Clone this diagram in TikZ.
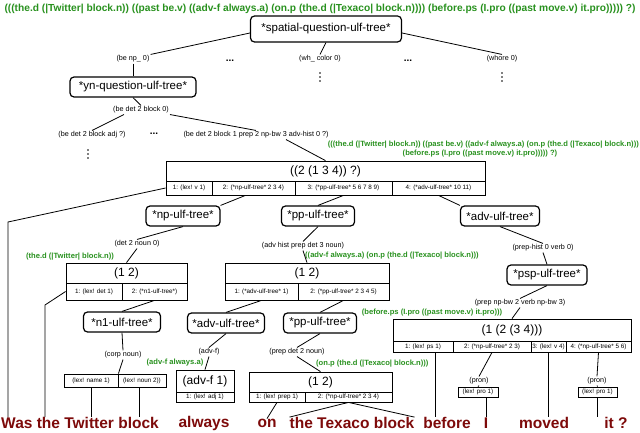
\documentclass[tikz,border=0pt]{standalone}
\usepackage{fontspec}
\setmainfont{Liberation Sans}
\begin{document}
\definecolor{gr}{RGB}{40,145,30}
\definecolor{dr}{RGB}{125,10,10}
\begin{tikzpicture}[x=1pt,y=-1pt,
 rbox/.style={draw,very thick,rounded corners=4pt,font=\fontsize{11.5}{12}\selectfont,inner sep=0pt,minimum height=20pt},
 cell/.style={draw,thick,inner sep=0pt,font=\fontsize{6.3}{7}\selectfont},
 top/.style={draw,thick,inner sep=0pt,font=\fontsize{12}{13}\selectfont},
 lab/.style={font=\fontsize{7.2}{7}\selectfont,inner sep=1pt},
 gl/.style={text=gr,font=\bfseries\fontsize{7.6}{8}\selectfont,inner sep=0pt},
 wd/.style={text=dr,font=\bfseries\fontsize{15.5}{16}\selectfont,inner sep=0pt},
 dots/.style={font=\bfseries\fontsize{10}{10}\selectfont,inner sep=0pt},
 vdot/.style={circle,fill,inner sep=0pt,minimum size=1.8pt},
 ln/.style={thick}]
\path[use as bounding box] (0,0) rectangle (640,433);
\node[text=gr,font=\bfseries\fontsize{10.2}{11}\selectfont] (g0) at (320,9) {(((the.d (|Twitter| block.n)) ((past be.v) ((adv-f always.a) (on.p (the.d (|Texaco| block.n)))) (before.ps (I.pro ((past move.v) it.pro))))) ?)};
\node[rbox,minimum width=151pt,minimum height=26pt] (sp) at (326,29) {*spatial-question-ulf-tree*};
\node[lab] (bnp) at (133,59) {(be np\_ 0)};
\node[dots] (d1) at (230,61) {...};
\node[lab] (wh) at (320,59) {(wh\_ color 0)};
\node[dots] (d2) at (408,61) {...};
\node[lab] (who) at (502,59) {(whore 0)};
\foreach \x/\y in {320/73,502/73,88/150}{
  \node[vdot] at (\x,\y) {}; \node[vdot] at (\x,\y+4) {}; \node[vdot] at (\x,\y+8) {};}
\draw[ln] (sp.west) ++(0,4) coordinate (a1) (a1) -- (bnp.north east);
\draw[ln] (sp.south) -- (wh.north);
\draw[ln] (sp.east) ++(0,4) coordinate (a2) (a2) -- (who.north);
\node[rbox,minimum width=126pt] (yn) at (133,87) {*yn-question-ulf-tree*};
\draw[ln] (bnp.south) -- (yn.north);
\node[lab] (bd0) at (141,110) {(be det 2 block 0)};
\draw[ln] (yn.south) -- (bd0.north);
\node[lab] (bda) at (92,135) {(be det 2 block adj ?)};
\node[dots] (d3) at (154,134) {...};
\node[lab] (bdl) at (256,135) {(be det 2 block 1 prep 2 np-bw 3 adv-hist 0 ?)};
\draw[ln] (bd0.south west) ++(12,0) coordinate (a3) (a3) -- (bda.north);
\draw[ln] (bd0.south east) -- (bdl.north);
\node[gl,anchor=east] (g1) at (639,145) {(((the.d (|Twitter| block.n)) ((past be.v) ((adv-f always.a) (on.p (the.d (|Texaco| block.n)))};
\node[gl] (g2) at (480,154) {(before.ps (I.pro ((past move.v) it.pro))))) ?)};
\node[top,minimum width=319pt,minimum height=20pt] (t1) at (325.5,171) {((2 (1 3 4)) ?)};
\node[cell,minimum width=46pt,minimum height=14pt] (t1a) at (189,188) {1: (lex! v 1)};
\node[cell,minimum width=83pt,minimum height=14pt] (t1b) at (253.5,188) {2: (*np-ulf-tree* 2 3 4)};
\node[cell,minimum width=97pt,minimum height=14pt] (t1c) at (343.5,188) {3: (*pp-ulf-tree* 5 6 7 8 9)};
\node[cell,minimum width=93pt,minimum height=14pt] (t1d) at (438.5,188) {4: (*adv-ulf-tree* 10 11)};
\draw[ln] (bdl.south) ++(30,0) coordinate (a4) (a4) -- (t1.north);
\node[rbox,minimum width=74pt] (np) at (183,216) {*np-ulf-tree*};
\node[rbox,minimum width=73pt] (pp) at (318,216) {*pp-ulf-tree*};
\node[rbox,minimum width=79pt] (adv) at (500,216) {*adv-ulf-tree*};
\draw[ln] (t1b.south) ++(-8,0) coordinate (a5) (a5) -- (np.north east);
\draw[ln] (t1c.south) -- (pp.north);
\draw[ln] (t1d.south) -- (adv.north west);
\node[lab] (dn) at (137,244) {(det 2 noun 0)};
\node[lab] (ah) at (303,246) {(adv hist prep det 3 noun)};
\node[lab] (ph) at (543,248) {(prep-hist 0 verb 0)};
\draw[ln] (np.south) -- (dn.north);
\draw[ln] (pp.south) -- (ah.north);
\draw[ln] (adv.south) -- (ph.north);
\node[gl] (g3) at (70,257) {(the.d (|Twitter| block.n))};
\node[gl,anchor=west] (g4) at (305,256) {((adv-f always.a) (on.p (the.d (|Texaco| block.n)))};
\node[top,minimum width=121pt,minimum height=20pt] (t2) at (126.5,273) {(1 2)};
\node[cell,minimum width=56pt,minimum height=17pt] (t2a) at (94,291.5) {1: (lex! det 1)};
\node[cell,minimum width=65pt,minimum height=17pt] (t2b) at (154.5,291.5) {2: (*n1-ulf-tree*)};
\draw[ln] (dn.south) -- (t2.north);
\node[top,minimum width=164pt,minimum height=20pt] (t3) at (307,273) {(1 2)};
\node[cell,minimum width=73pt,minimum height=17pt] (t3a) at (261.5,291.5) {1: (*adv-ulf-tree* 1)};
\node[cell,minimum width=91pt,minimum height=17pt] (t3b) at (343.5,291.5) {2: (*pp-ulf-tree* 2 3 4 5)};
\draw[ln] (ah.south) -- (t3.north);
\node[rbox,minimum width=80pt] (psp) at (547,275) {*psp-ulf-tree*};
\draw[ln] (ph.south) -- (psp.north);
\node[rbox,minimum width=77pt] (n1) at (122,322) {*n1-ulf-tree*};
\node[rbox,minimum width=77pt] (adv2) at (226,323) {*adv-ulf-tree*};
\node[rbox,minimum width=73pt] (pp2) at (320,323) {*pp-ulf-tree*};
\draw[ln] (t2b.south) -- (n1.north);
\draw[ln] (t3a.south) -- (adv2.north);
\draw[ln] (t3b.south) -- (pp2.north);
\node[lab] (pnv) at (520,303) {(prep np-bw 2 verb np-bw 3)};
\draw[ln] (psp.south) -- (pnv.north);
\node[gl] (g5) at (432,313) {(before.ps (I.pro ((past move.v) it.pro)))};
\node[top,minimum width=238pt,minimum height=22pt] (t7) at (512,330) {(1 (2 (3 4)))};
\node[cell,minimum width=60pt,minimum height=11pt] (t7a) at (423,346.5) {1: (lex! ps 1)};
\node[cell,minimum width=78pt,minimum height=11pt] (t7b) at (492,346.5) {2: (*np-ulf-tree* 2 3)};
\node[cell,minimum width=35pt,minimum height=11pt] (t7c) at (548.5,346.5) {3: (lex! v 4)};
\node[cell,minimum width=65pt,minimum height=11pt] (t7d) at (598.5,346.5) {4: (*np-ulf-tree* 5 6)};
\draw[ln] (pnv.south) -- (t7.north);
\node[lab] (cn) at (123,355) {(corp noun)};
\node[lab] (af) at (209,352) {(adv-f)};
\node[lab] (pd) at (297,352) {(prep det 2 noun)};
\draw[ln] (n1.south) -- (cn.north);
\draw[ln] (adv2.south) -- (af.north);
\draw[ln] (pp2.south) -- (pd.north);
\node[gl] (g6) at (175,363) {(adv-f always.a)};
\node[gl,anchor=west] (g7) at (316,364) {(on.p (the.d (|Texaco| block.n)))};
\node[cell,minimum width=54pt,minimum height=13pt] (t4a) at (91,380.5) {(lex! name 1)};
\node[cell,minimum width=48pt,minimum height=13pt] (t4b) at (142,380.5) {(lex! noun 2))};
\draw[ln] (cn.south) -- (t4a.north east);
\node[top,minimum width=58pt,minimum height=22pt] (t5) at (205,381) {(adv-f 1)};
\node[cell,minimum width=58pt,minimum height=10pt] (t5a) at (205,397) {1: (lex! adj 1)};
\draw[ln] (af.south) -- (t5.north);
\node[top,minimum width=143pt,minimum height=20pt] (t6) at (320.5,382) {(1 2)};
\node[cell,minimum width=56pt,minimum height=10pt] (t6a) at (277,397) {1: (lex! prep 1)};
\node[cell,minimum width=87pt,minimum height=10pt] (t6b) at (348.5,397) {2: (*np-ulf-tree* 2 3 4)};
\draw[ln] (pd.south) -- (t6.north);
\node[lab] (pr1) at (479,381) {(pron)};
\node[lab] (pr2) at (597,381) {(pron)};
\node[cell,minimum width=40pt,minimum height=10pt] (lp1) at (478,392) {(lex! pro 1)};
\node[cell,minimum width=39pt,minimum height=10pt] (lp2) at (597.5,392) {(lex! pro 1)};
\draw[ln] (t7b.south) -- (pr1.north);
\draw[ln] (pr1.south) -- (lp1.north);
\draw[ln] (t7d.south) -- (pr2.north);
\draw[ln] (pr2.south) -- (lp2.north);
\node[wd] (w1) at (80,423) {Was the Twitter block};
\node[wd] (w2) at (204,423) {always};
\node[wd] (w3) at (267,423) {on};
\node[wd] (w4) at (352,423) {the Texaco block};
\node[wd] (w5) at (447,423) {before};
\node[wd] (w6) at (486,423) {I};
\node[wd] (w7) at (544,423) {moved};
\node[wd] (w8) at (616,423) {it ?};
\coordinate (c1) at (8,222);
\coordinate (c2) at (45,305);
\draw[ln] (t1a.west) -- (c1) -- (c1 |- w1.north);
\draw[ln] (t2a.west) -- (c2) -- (c2 |- w1.north);
\draw[ln] (t4a.south) -- (t4a.south |- w1.north);
\draw[ln] (t4b.south) ++(-3,0) coordinate (a6) (a6) -- (a6 |- w1.north);
\draw[ln] (t6a.south) -- (w3.north);
\draw[ln] (t6b.south) -- (w4.north west);
\draw[ln] (t6b.south) -- (w4.north east);
\draw[ln] (t7a.south) ++(12,0) coordinate (a7) (a7) -- (a7 |- w5.north);
\draw[ln] (lp1.south) ++(8,0) coordinate (a8) (a8) -- (a8 |- w6.north);
\draw[ln] (t7c.south) -- (t7c.south |- w7.north);
\draw[ln] (lp2.south) -- (lp2.south |- w8.north);
\end{tikzpicture}
\end{document}
